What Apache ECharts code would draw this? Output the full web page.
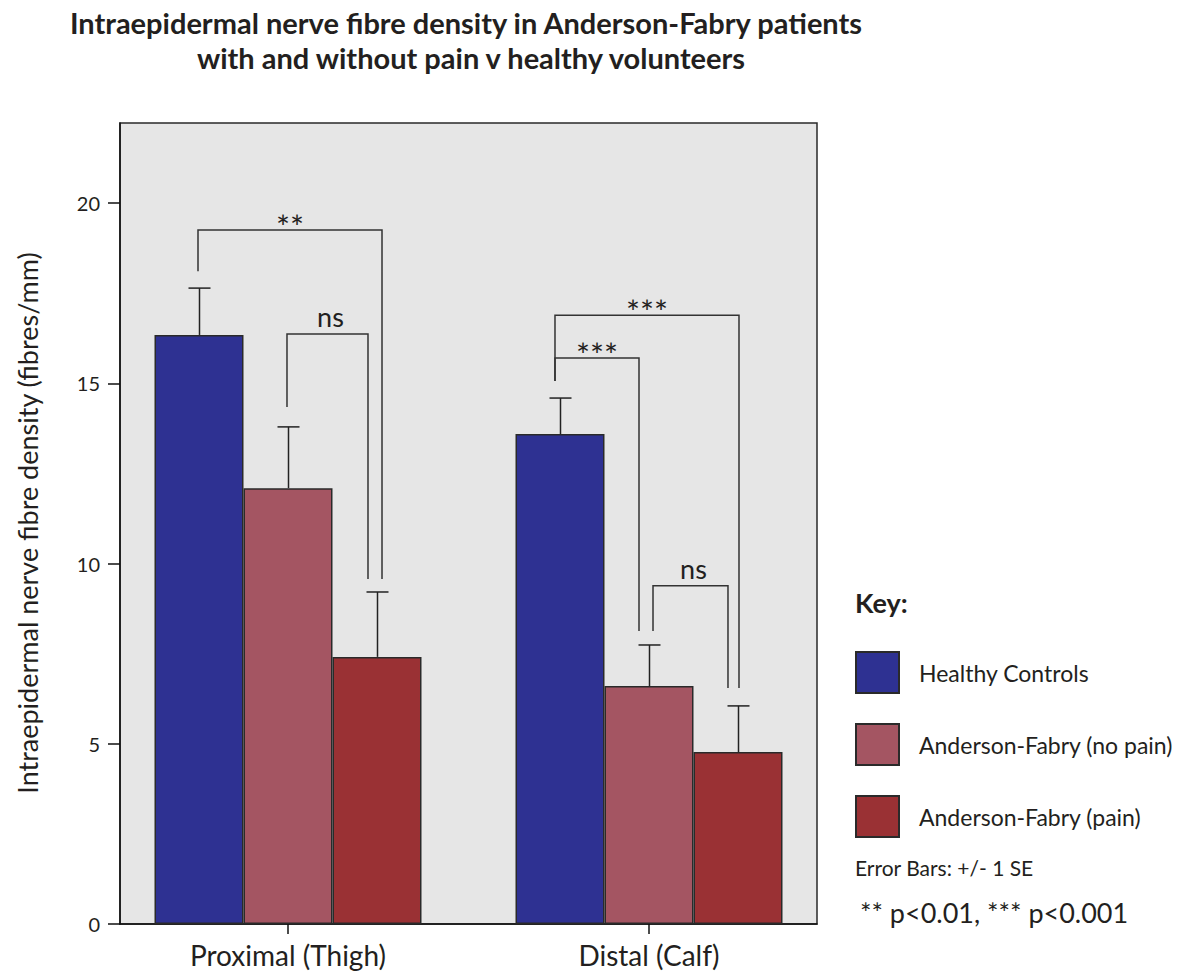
<!DOCTYPE html>
<html>
<head>
<meta charset="utf-8">
<script src="https://cdn.jsdelivr.net/npm/echarts@6/dist/echarts.min.js"></script>
<style>
  html, body { margin: 0; padding: 0; background: #ffffff; }
  #chart { width: 1191px; height: 978px; }
</style>
</head>
<body>
<div id="chart"></div>
<script>
// Sampling sites and their positions on the x value axis
const sites = ['Proximal (Thigh)', 'Distal (Calf)'];
const sitePos = [1, 2];

// Groups (legend order)
const groups = ['Healthy Controls', 'Anderson-Fabry (no pain)', 'Anderson-Fabry (pain)'];

// Mean IENFD (fibres/mm) per site
const healthyMean = [16.34, 13.59];
const noPainMean = [12.09, 6.60];
const painMean = [7.41, 4.77];

// Mean + 1 SE per site
const healthyUpper = [17.64, 14.59];
const noPainUpper = [13.79, 7.74];
const painUpper = [9.21, 6.05];

// Y axis tick values
const yTicks = [0, 5, 10, 15, 20];

// Significance brackets: [xLeft, xRight, yTop, yLeftEnd, yRightEnd]
const bracketLines = [
  [0.7507, 1.2604, 19.25, 18.11, 9.57],
  [0.9972, 1.2216, 16.37, 14.34, 9.57],
  [1.7396, 2.2493, 16.89, 15.06, 6.55],
  [1.7396, 1.9723, 15.70, 15.06, 8.13],
  [2.0111, 2.2188, 9.38, 8.13, 6.55]
];
const bracketLabels = ['**', 'ns', '***', '***', 'ns'];

const FONT = 'Lato, "Open Sans", sans-serif';
const INK = '#231f20';
const BAR_W = 89;
const COLORS = ['#2e3192', '#a45562', '#9a3134'];

const means = [healthyMean, noPainMean, painMean];
const uppers = [healthyUpper, noPainUpper, painUpper];

const barSeries = groups.map((name, g) => ({
  name: name,
  type: 'bar',
  barWidth: BAR_W,
  barGap: '0%',
  itemStyle: { color: COLORS[g], borderColor: '#2a2a2a', borderWidth: 1.5 },
  emphasis: { disabled: true },
  data: sitePos.map((x, i) => [x, means[g][i]]),
  z: 2
}));

const errorData = [];
groups.forEach((name, g) => {
  sitePos.forEach((x, i) => errorData.push([x, means[g][i], uppers[g][i], g]));
});

const errorSeries = {
  type: 'custom',
  silent: true,
  z: 3,
  encode: { x: 0, y: [1, 2] },
  data: errorData,
  renderItem: function (params, api) {
    const g = api.value(3);
    const base = api.coord([api.value(0), api.value(1)]);
    const top = api.coord([api.value(0), api.value(2)]);
    const x = Math.round(base[0] + (g - 1) * BAR_W) + 0.5;
    const st = { stroke: '#222', lineWidth: 1.5 };
    return {
      type: 'group',
      children: [
        { type: 'line', shape: { x1: x, y1: base[1], x2: x, y2: top[1] }, style: st },
        { type: 'line', shape: { x1: x - 11, y1: top[1], x2: x + 11, y2: top[1] }, style: st }
      ]
    };
  }
};

const bracketSeries = {
  type: 'custom',
  silent: true,
  z: 4,
  encode: { x: [0, 1], y: [2, 3, 4] },
  data: bracketLines,
  renderItem: function (params, api) {
    const xl = api.value(0), xr = api.value(1);
    const pL = api.coord([xl, api.value(3)]);
    const pTL = api.coord([xl, api.value(2)]);
    const pTR = api.coord([xr, api.value(2)]);
    const pR = api.coord([xr, api.value(4)]);
    const label = bracketLabels[params.dataIndex];
    const isStar = label.charAt(0) === '*';
    return {
      type: 'group',
      children: [
        {
          type: 'polyline',
          shape: { points: [pL, pTL, pTR, pR] },
          style: { stroke: '#333', lineWidth: 1.5, fill: null }
        },
        {
          type: 'text',
          x: (pTL[0] + pTR[0]) / 2 + (isStar ? 0 : 3),
          y: pTL[1] - (isStar ? 4 : 17),
          style: {
            text: label,
            fill: INK,
            fontFamily: FONT,
            fontSize: isStar ? 33 : 27,
            align: 'center',
            verticalAlign: 'middle'
          }
        }
      ]
    };
  }
};

const chart = echarts.init(document.getElementById('chart'), null, { renderer: 'svg' });

chart.setOption({
  animation: false,
  backgroundColor: '#ffffff',
  grid: {
    left: 120, right: 374, top: 123, bottom: 54,
    show: true,
    backgroundColor: '#e6e6e6',
    borderColor: '#2a2a2a',
    borderWidth: 1.5
  },
  xAxis: {
    type: 'value',
    min: 1 - 168 / 361,
    max: 2 + 168 / 361,
    splitLine: { show: false },
    axisLine: { show: true, onZero: false, lineStyle: { color: '#111', width: 1.5 } },
    axisTick: { show: true, length: 10, customValues: sitePos, lineStyle: { color: '#111', width: 1.5 } },
    axisLabel: {
      customValues: sitePos,
      formatter: function (v) { return sites[sitePos.indexOf(Math.round(v))] || ''; },
      margin: 17,
      fontFamily: FONT,
      fontSize: 28,
      color: INK
    }
  },
  yAxis: {
    type: 'value',
    min: 0,
    max: 22.22,
    splitLine: { show: false },
    axisLine: { show: true, lineStyle: { color: '#111', width: 1.5 } },
    axisTick: { show: true, length: 12, customValues: yTicks, lineStyle: { color: '#111', width: 1.5 } },
    axisLabel: {
      customValues: yTicks,
      margin: 20,
      fontFamily: FONT,
      fontSize: 20,
      color: INK
    }
  },
  legend: {
    orient: 'vertical',
    left: 855,
    top: 651,
    padding: 0,
    itemWidth: 43,
    itemHeight: 41,
    itemGap: 29,
    icon: 'rect',
    data: groups,
    selectedMode: false,
    textStyle: { fontFamily: FONT, fontSize: 23, color: INK, padding: [0, 0, 0, 15] }
  },
  graphic: [
    {
      type: 'text', x: 466, y: 22,
      style: { text: 'Intraepidermal nerve fibre density in Anderson-Fabry patients',
        fill: INK, fontFamily: FONT, fontWeight: 'bold', fontSize: 29, align: 'center', verticalAlign: 'middle' }
    },
    {
      type: 'text', x: 471, y: 57,
      style: { text: 'with and without pain v healthy volunteers',
        fill: INK, fontFamily: FONT, fontWeight: 'bold', fontSize: 29, align: 'center', verticalAlign: 'middle' }
    },
    {
      type: 'text', x: 27, y: 523, rotation: Math.PI / 2,
      style: { text: 'Intraepidermal nerve fibre density (fibres/mm)',
        fill: INK, fontFamily: FONT, fontSize: 27, align: 'center', verticalAlign: 'middle' }
    },
    {
      type: 'text', x: 855, y: 602,
      style: { text: 'Key:', fill: INK, fontFamily: FONT, fontWeight: 'bold', fontSize: 27, align: 'left', verticalAlign: 'middle' }
    },
    {
      type: 'text', x: 855, y: 867,
      style: { text: 'Error Bars: +/- 1 SE', fill: INK, fontFamily: FONT, fontSize: 21, align: 'left', verticalAlign: 'middle' }
    },
    {
      type: 'text', x: 860, y: 912,
      style: { text: '** p<0.01, *** p<0.001', fill: INK, fontFamily: FONT, fontSize: 27, align: 'left', verticalAlign: 'middle' }
    }
  ],
  series: barSeries.concat([errorSeries, bracketSeries])
});
</script>
</body>
</html>
